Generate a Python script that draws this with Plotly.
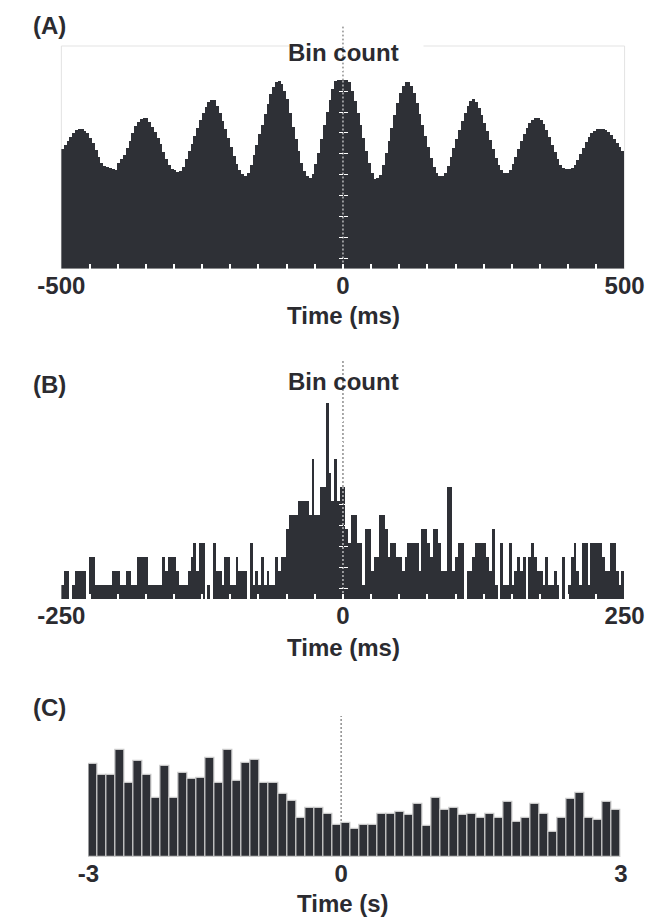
import plotly.graph_objects as go

W, H = 667, 917
DARK = "#2e3036"
TXT = "#2b2b30"
FONT = "Arial"

# ---------------- data ----------------
# (A) autocorrelogram, 5 ms bins from -500 to 500 ms
A_START, A_BIN = -500, 5
A_COUNTS = [
    120, 124, 128, 132, 136, 139, 140, 140, 138, 136, 131, 126, 119, 112, 106, 103, 102, 101, 100, 99,
    106, 110, 114, 121, 128, 136, 143, 147, 150, 151, 151, 147, 142, 137, 131, 125, 117, 110, 104, 100, 99, 97,
    98, 102, 110, 118, 125, 133, 141, 149, 156, 162, 167, 169, 169, 163, 156, 148, 140, 131, 122, 113, 105, 99, 95,
    93, 96, 104, 114, 124, 135, 144, 155, 165, 175, 182, 187, 188, 185, 178, 170, 156, 142, 130, 118, 106, 98, 93,
    91, 95, 105, 116, 130, 144, 157, 169, 180, 188, 189, 189,
    189, 189, 187, 178, 168, 156, 144, 131, 118, 106, 96, 90,
    91, 94, 104, 116, 128, 141, 154, 166, 176, 183, 187, 187, 183, 176, 166, 155, 144, 133, 122, 111, 102, 96, 93,
    93, 96, 103, 112, 121, 130, 139, 148, 156, 163, 168, 170, 167, 161, 154, 146, 138, 129, 120, 111, 104, 99, 96,
    96, 99, 105, 112, 120, 128, 135, 141, 146, 149, 151, 151, 149, 145, 139, 132, 124, 117, 110, 104, 101, 100, 100, 101,
    104, 109, 115, 121, 127, 132, 136, 138, 140, 140, 140, 139, 137, 134, 130, 126, 122, 118,
]
A_TICKVALS = [-500, 0, 500]
A_TICKTEXT = ["-500", "0", "500"]

# (B) crosscorrelogram, 2.5 ms bins from -250 to 250 ms
B_START, B_BIN = -250, 2.5
B_COUNTS = [
    1, 2, 2, 0, 1, 2, 2, 2, 2, 0, 3, 3, 1, 1, 1, 1, 1, 1, 2, 2,
    2, 1, 1, 2, 2, 1, 1, 3, 3, 3, 3, 1, 1, 1, 1, 1, 3, 2, 3, 3,
    3, 2, 1, 1, 1, 2, 3, 4, 2, 4, 4, 0, 1, 0, 4, 2, 2, 1, 3, 3,
    1, 1, 3, 2, 2, 2, 0, 4, 1, 2, 1, 3, 1, 2, 1, 1, 3, 2, 3, 3,
    5, 6, 6, 6, 7, 7, 7, 7, 6, 10, 6, 6, 8, 8, 14, 9, 7, 10, 7, 8,
    8, 5, 4, 6, 6, 4, 4, 1, 5, 5, 2, 3, 3, 6, 6, 5, 3, 4, 4, 3,
    3, 2, 3, 4, 4, 4, 4, 2, 5, 5, 4, 3, 5, 5, 4, 2, 2, 8, 8, 2,
    3, 4, 4, 0, 2, 2, 3, 4, 4, 4, 4, 3, 2, 5, 1, 0, 4, 1, 1, 4,
    1, 2, 3, 2, 3, 0, 3, 4, 3, 2, 2, 1, 3, 1, 1, 2, 1, 0, 3, 0,
    1, 3, 4, 2, 1, 4, 4, 1, 4, 4, 4, 4, 3, 2, 2, 4, 4, 2, 1, 2,
]
B_TICKVALS = [-250, 0, 250]
B_TICKTEXT = ["-250", "0", "250"]

# (C) peri-event histogram, 0.1 s bins
C_START, C_BIN = -2.8, 0.1
C_VALUES = [
    278, 245, 245, 320, 223, 288, 245, 178, 272, 178,
    252, 234, 238, 297, 223, 320, 228, 282, 292, 223,
    223, 190, 169, 116, 148, 148, 130, 96, 102, 85,
    96, 96, 130, 130, 135, 126, 160, 92, 178, 140,
    148, 126, 130, 116, 130, 116, 165, 106, 116, 160,
    130, 76, 116, 173, 193, 116, 110, 165, 140,
]
C_TICKVALS = [-2.8, 0, 3.1]
C_TICKTEXT = ["-3", "0", "3"]

def centers(start, width, n):
    return [start + width * (i + 0.5) for i in range(n)]

# ---------------- layout geometry (px) ----------------
def fx(px):
    return px / W

def fy(py):
    return 1 - py / H

AB_X = [fx(40), fx(643)]
C_X = [fx(69), fx(639)]
A_Y = [fy(268.5), fy(46)]
B_Y = [fy(599), fy(378)]
C_Y = [fy(857), fy(737)]
ZERO_AB = AB_X[0] + 0.5 * (AB_X[1] - AB_X[0])

fig = go.Figure()
fig.add_trace(go.Bar(x=centers(A_START, A_BIN, len(A_COUNTS)), y=A_COUNTS, width=A_BIN,
                     marker=dict(color=DARK, line=dict(width=0)), xaxis="x", yaxis="y",
                     hoverinfo="skip", showlegend=False))
fig.add_trace(go.Bar(x=centers(B_START, B_BIN, len(B_COUNTS)), y=B_COUNTS, width=B_BIN,
                     marker=dict(color=DARK, line=dict(width=0)), xaxis="x2", yaxis="y2",
                     hoverinfo="skip", showlegend=False))
fig.add_trace(go.Bar(x=centers(C_START, C_BIN, len(C_VALUES)), y=C_VALUES, width=C_BIN,
                     marker=dict(color=DARK, line=dict(width=1.2, color="#c9c9c9")),
                     xaxis="x3", yaxis="y3", hoverinfo="skip", showlegend=False))
# empty traces that carry the overlay axes used for the crossing tick marks
fig.add_trace(go.Scatter(x=[None], y=[None], xaxis="x", yaxis="y4", showlegend=False, hoverinfo="skip"))
fig.add_trace(go.Scatter(x=[None], y=[None], xaxis="x2", yaxis="y5", showlegend=False, hoverinfo="skip"))

tickfont = dict(family=FONT, size=24, color=TXT, weight="bold")

def xaxis(domain, rng, tickvals, ticktext, anchor, minor_dtick):
    d = dict(domain=domain, range=rng, anchor=anchor, showgrid=False, zeroline=False,
             showline=False, tickvals=tickvals, ticktext=ticktext, tickfont=tickfont,
             ticks="inside" if minor_dtick else "", ticklen=5, tickwidth=1.5, tickcolor="white",
             fixedrange=True)
    if minor_dtick:
        d["minor"] = dict(ticks="inside", dtick=minor_dtick, tick0=0, ticklen=5,
                          tickwidth=1.5, tickcolor="white")
    return d

def yaxis(domain, rng, tick0, dtick, ticks, overlay=None):
    d = dict(domain=domain, range=rng, showgrid=False, zeroline=False, showline=False,
             showticklabels=False, fixedrange=True, anchor="free", position=ZERO_AB,
             tickmode="linear", tick0=tick0, dtick=dtick, ticks=ticks, ticklen=4,
             tickwidth=1.2, tickcolor="white")
    if overlay:
        d["overlaying"] = overlay
    return d

A_RANGE = [0, 222.5]
B_RANGE = [0, 221 / 14]
C_RANGE = [0, 360]

fig.update_layout(
    width=W, height=H, margin=dict(l=0, r=0, t=0, b=0),
    paper_bgcolor="white", plot_bgcolor="rgba(0,0,0,0)",
    bargap=0, barmode="overlay",
    xaxis=xaxis(AB_X, [-500, 500], A_TICKVALS, A_TICKTEXT, "y", 50),
    xaxis2=xaxis(AB_X, [-250, 250], B_TICKVALS, B_TICKTEXT, "y2", 25),
    xaxis3=xaxis(C_X, [-2.8, 3.1], C_TICKVALS, C_TICKTEXT, "y3", None),
    yaxis=yaxis(A_Y, A_RANGE, 10.2, 20.9, "outside"),
    yaxis4=yaxis(A_Y, A_RANGE, 10.2, 20.9, "inside", overlay="y"),
    yaxis2=yaxis(B_Y, B_RANGE, 0.76, 1.49, "outside"),
    yaxis5=yaxis(B_Y, B_RANGE, 0.76, 1.49, "inside", overlay="y2"),
    yaxis3=dict(domain=C_Y, range=C_RANGE, anchor="x3", showgrid=False, zeroline=False,
                showline=False, showticklabels=False, ticks="", fixedrange=True),
)

shapes = []
# faint frame around panel A (top edge broken around the title)
frame = dict(type="line", xref="x domain", yref="y domain", line=dict(color="#e3e3e3", width=1), layer="below")
for x0, y0, x1, y1 in [(0, 0, 0, 1), (1, 0, 1, 1), (0, 0, 1, 0), (0, 1, 0.408, 1), (0.643, 1, 1, 1)]:
    shapes.append(dict(frame, x0=x0, y0=y0, x1=x1, y1=y1))

# zero lines: grey dotted (visible over white), white dashes (visible over bars)
for xr, yr, top, white in [("x", "y domain", 1.095, True), ("x2", "y2 domain", 1.081, True),
                           ("x3", "y3 domain", 1.175, False)]:
    shapes.append(dict(type="line", xref=xr, yref=yr, x0=0, x1=0, y0=0, y1=top,
                       line=dict(color="#555555", width=1, dash="2px,2px"), layer="below"))
    if white:
        shapes.append(dict(type="line", xref=xr, yref=yr, x0=0, x1=0, y0=0, y1=top,
                           line=dict(color="white", width=1, dash="0px,2px,2px,0px"), layer="above"))
fig.update_layout(shapes=shapes)

def label(text, xpx, ypx, anchor="center"):
    return dict(text=text, x=fx(xpx), y=fy(ypx), xref="paper", yref="paper",
                xanchor=anchor, yanchor="middle", showarrow=False,
                font=dict(family=FONT, size=24, color=TXT, weight="bold"))

fig.update_layout(annotations=[
    label("(A)", 8, 26, "left"),
    label("Bin count", 342, 52.5),
    label("Time (ms)", 342, 315),
    label("(B)", 8, 385, "left"),
    label("Bin count", 342, 382),
    label("Time (ms)", 342, 647),
    label("(C)", 8, 707, "left"),
    label("Time (s)", 342, 903),
])

fig.write_html("out.html")
